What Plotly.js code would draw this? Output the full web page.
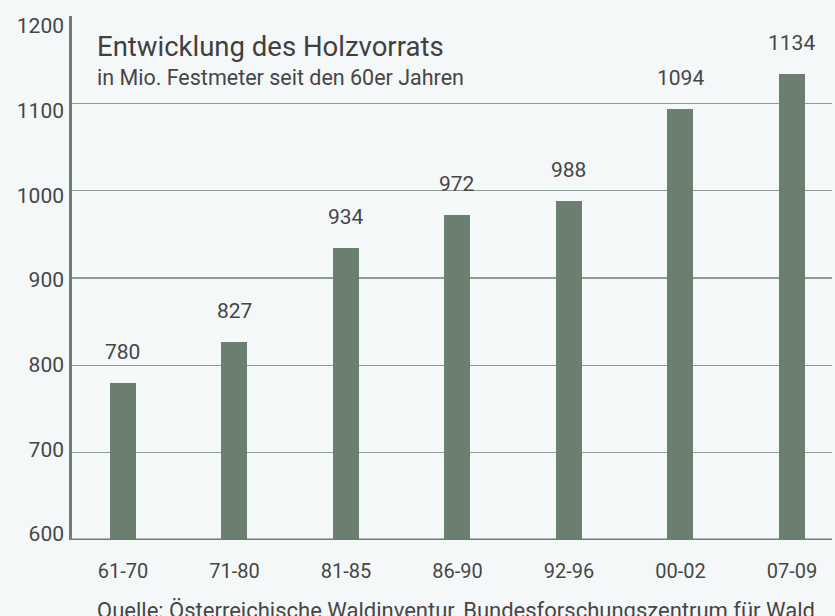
<!DOCTYPE html>
<html><head><meta charset="utf-8">
<script src="https://cdn.plot.ly/plotly-3.0.1.min.js"></script>
<style>html,body{margin:0;padding:0;background:#f5f8f9;}#chart{width:835px;height:616px;}</style>
</head><body><div id="chart"></div>
<script>
const categories = ["61-70","71-80","81-85","86-90","92-96","00-02","07-09"];
const values = [780, 827, 934, 972, 988, 1094, 1134];
const yTicks = [600, 700, 800, 900, 1000, 1100, 1200];

const FONT = "Roboto, 'DejaVu Sans', sans-serif";
const TXT = "#464646";
const BAR = "#6a7f6f";
const GRID = "#8c9e90";

const annotations = categories.map((c, i) => ({
  x: c, y: values[i], xref: "x", yref: "y",
  text: String(values[i]), showarrow: false,
  yanchor: "middle", yshift: 31,
  font: {family: FONT, size: 21, color: TXT}
}));
annotations.push({
  xref: "paper", yref: "paper", x: 0.030, y: 0.941, xanchor: "left", yanchor: "middle",
  text: "Entwicklung des Holzvorrats", showarrow: false,
  font: {family: FONT, size: 27.5, color: "#404040"}
});
annotations.push({
  xref: "paper", yref: "paper", x: 0.030, y: 0.882, xanchor: "left", yanchor: "middle",
  text: "in Mio. Festmeter seit den 60er Jahren", showarrow: false,
  font: {family: FONT, size: 21.5, color: TXT}
});
annotations.push({
  xref: "paper", yref: "paper", x: 0.030, y: -0.1336, xanchor: "left", yanchor: "middle",
  text: "Quelle: Österreichische Waldinventur, Bundesforschungszentrum für Wald", showarrow: false,
  font: {family: FONT, size: 22, color: TXT}
});

Plotly.newPlot("chart", [{
  type: "bar", x: categories, y: values, width: 0.233,
  marker: {color: BAR}, hoverinfo: "skip"
}, {
  type: "scatter", x: [categories[0]], y: [yTicks[0]], yaxis: "y2",
  mode: "markers", marker: {opacity: 0}, hoverinfo: "skip"
}], {
  width: 835, height: 616,
  margin: {l: 72, r: 3, t: 16, b: 76},
  paper_bgcolor: "#f5f8f9", plot_bgcolor: "#f5f8f9",
  showlegend: false,
  bargap: 0,
  xaxis: {
    type: "category", range: [-0.457, 6.359],
    showgrid: false, zeroline: false, showline: false,
    ticks: "", ticklabelstandoff: 17,
    tickfont: {family: FONT, size: 20, color: TXT}
  },
  yaxis: {
    range: [600, 1200], tickvals: yTicks, showticklabels: false,
    showgrid: true, gridcolor: GRID, gridwidth: 1.5,
    zeroline: false, showline: true, linecolor: BAR, linewidth: 3,
    ticks: ""
  },
  yaxis2: {
    overlaying: "y", side: "left", range: [592.9, 1211.8],
    tickvals: yTicks, ticktext: yTicks.map(String),
    showgrid: false, zeroline: false, showline: false, ticks: "",
    ticklabelstandoff: 7,
    tickfont: {family: FONT, size: 21, color: TXT}
  },
  shapes: [{
    type: "line", xref: "paper", yref: "y", x0: 0, x1: 1, y0: 600, y1: 600,
    line: {color: BAR, width: 3}
  }],
  annotations: annotations
}, {displayModeBar: false, staticPlot: true});
</script></body></html>
